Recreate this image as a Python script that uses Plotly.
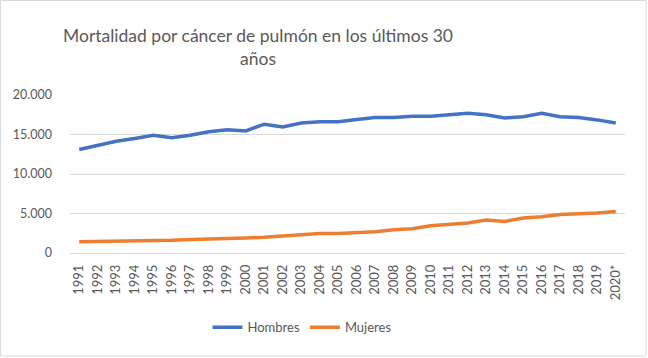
import plotly.graph_objects as go

years = ["1991","1992","1993","1994","1995","1996","1997","1998","1999","2000",
         "2001","2002","2003","2004","2005","2006","2007","2008","2009","2010",
         "2011","2012","2013","2014","2015","2016","2017","2018","2019","2020*"]
hombres = [13100,13600,14150,14500,14900,14600,14900,15350,15600,15450,
           16300,15950,16450,16600,16600,16900,17150,17150,17300,17300,
           17550,17700,17500,17100,17250,17700,17250,17150,16850,16450]
mujeres = [1430,1450,1450,1480,1550,1600,1700,1730,1850,1900,
           2000,2150,2270,2480,2480,2570,2700,2950,3070,3450,
           3620,3800,4170,4000,4420,4590,4880,4930,5050,5260]
y_ticks = [0, 5000, 10000, 15000, 20000]

font_fam = "Lato"
grey = "#595959"

fig = go.Figure()
fig.add_trace(go.Scatter(x=years, y=hombres, name="Hombres", mode="lines",
                         line=dict(color="#4472C4", width=3.5)))
fig.add_trace(go.Scatter(x=years, y=mujeres, name="Mujeres", mode="lines",
                         line=dict(color="#ED7D31", width=3.5)))

fig.update_layout(
    width=648, height=358,
    margin=dict(l=70, r=23, t=95, b=105, autoexpand=False),
    paper_bgcolor="white", plot_bgcolor="white",
    separators=",.",
    font=dict(family=font_fam, color=grey, size=13),
    title=dict(text="Mortalidad por cáncer de pulmón en los últimos 30<br>años",
               x=258/648, xanchor="center", xref="container",
               y=1-42/358, yanchor="top", yref="container",
               font=dict(family=font_fam, size=17.5, color=grey)),
    legend=dict(orientation="h", x=(302-70)/555, xanchor="center",
                y=-0.47, yanchor="middle", font=dict(size=13, color=grey),
                itemwidth=30),
    showlegend=True,
)
fig.update_xaxes(type="category", range=[-0.5, 29.5], tickangle=-90,
                 showgrid=False, showline=False, ticks="", automargin=False,
                 ticklabelstandoff=8,
                 tickfont=dict(size=13, color=grey))
fig.update_yaxes(range=[0, 20000], tickvals=y_ticks, tickformat=",d",
                 showgrid=True, gridcolor="#D9D9D9", gridwidth=1,
                 zeroline=True, zerolinecolor="#D9D9D9", zerolinewidth=1,
                 showline=False, ticks="", ticklabelstandoff=17, automargin=False,
                 tickfont=dict(size=12.5, color=grey))
fig.add_shape(type="rect", xref="paper", yref="paper",
              x0=-69.5/555, x1=1+21/555, y0=-103/158, y1=1+94.5/158,
              line=dict(color="#D9D9D9", width=1), fillcolor="rgba(0,0,0,0)",
              layer="below")
fig.write_html("out.html", post_script="document.body.style.margin='0';",
               config={"displayModeBar": False})
